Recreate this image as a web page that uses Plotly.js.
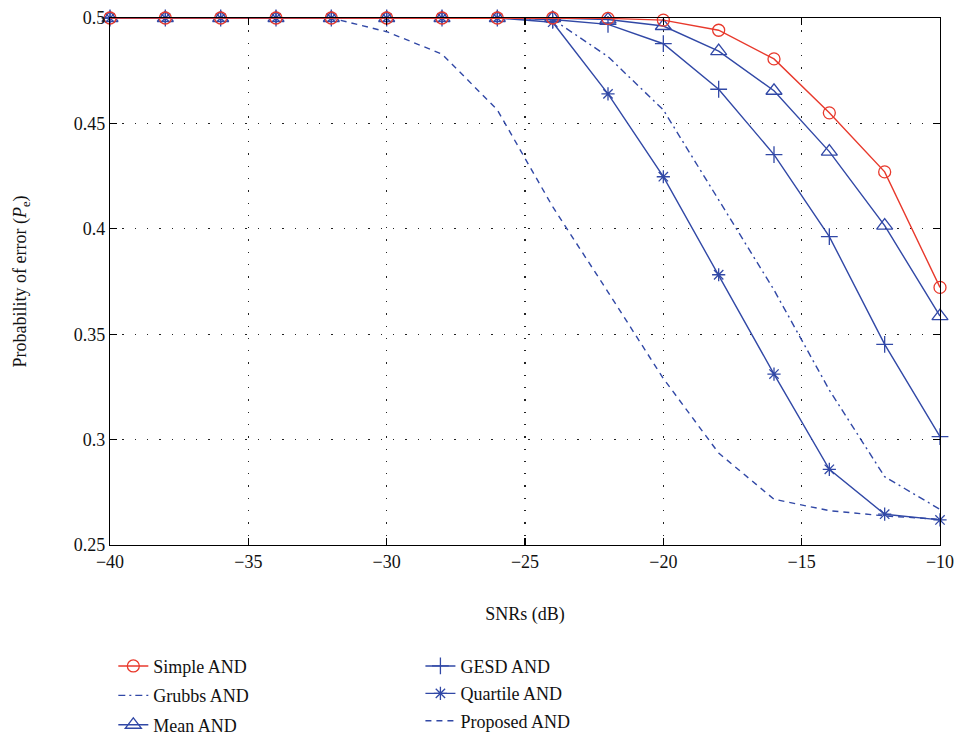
<!DOCTYPE html>
<html>
<head>
<meta charset="utf-8">
<script src="https://cdn.plot.ly/plotly-3.0.1.min.js"></script>
<style>html,body{margin:0;padding:0;background:#fff;}#chart{width:956px;height:738px;}</style>
</head>
<body>
<div id="chart"></div>
<script>
const snr = [-40,-38,-36,-34,-32,-30,-28,-26,-24,-22,-20,-18,-16,-14,-12,-10];
const simpleAND   = [0.5,0.5,0.5,0.5,0.5,0.5,0.5,0.5,0.5,0.4998,0.499,0.4942,0.4806,0.455,0.427,0.3722];
const grubbsAND   = [0.5,0.5,0.5,0.5,0.5,0.5,0.5,0.5,0.4994,0.4817,0.4564,0.414,0.371,0.3235,0.2824,0.2669];
const meanAND     = [0.5,0.5,0.5,0.5,0.5,0.5,0.5,0.5,0.5,0.4993,0.4962,0.4843,0.4655,0.4366,0.4015,0.3586];
const gesdAND     = [0.5,0.5,0.5,0.5,0.5,0.5,0.5,0.5,0.4993,0.497,0.4878,0.4662,0.4352,0.3963,0.3452,0.3014];
const quartileAND = [0.5,0.5,0.5,0.5,0.5,0.5,0.5,0.5,0.498,0.464,0.4247,0.3782,0.3311,0.2859,0.2646,0.2619];
const proposedAND = [0.5,0.5,0.5,0.5,0.5,0.4935,0.4829,0.4564,0.4105,0.370,0.329,0.2936,0.2717,0.2663,0.2638,0.2622];

const RED = '#e8392c';
const BLUE = '#3148a6';
const FONT = 'Liberation Serif';

function tr(name, y, color, dash, symbol, size, legend, rank) {
  const t = {
    type: 'scatter', x: snr, y: y, name: name,
    mode: symbol ? 'lines+markers' : 'lines',
    line: {color: color, width: 1.4, dash: dash},
    cliponaxis: false,
    legend: legend, legendrank: rank, legendgroup: name
  };
  if (symbol) t.marker = {symbol: symbol, size: size, color: color, line: {color: color, width: 1.3}};
  return t;
}

const data = [
  tr('Proposed AND', proposedAND, BLUE, '6px,5px', null, 0, 'legend2', 6),
  tr('Grubbs AND', grubbsAND, BLUE, '7px,4px,2px,4px', null, 0, 'legend', 2),
  tr('Quartile AND', quartileAND, BLUE, 'solid', 'asterisk-open', 11, 'legend2', 5),
  tr('GESD AND', gesdAND, BLUE, 'solid', 'cross-thin-open', 12, 'legend2', 4),
  tr('Mean AND', meanAND, BLUE, 'solid', 'triangle-up-open', 14, 'legend', 3),
  tr('Simple AND', simpleAND, RED, 'solid', 'circle-open', 12, 'legend', 1)
];

const axisCommon = {
  showline: true, linecolor: '#000', linewidth: 1.2, mirror: 'ticks',
  ticks: 'inside', ticklen: 7, tickcolor: '#000', tickwidth: 1.2,
  showgrid: true, gridcolor: '#222', gridwidth: 1.3, griddash: '1.3px,11px',
  zeroline: false, automargin: false,
  tickfont: {family: FONT, size: 18, color: '#111'}
};

const layout = {
  width: 956, height: 738,
  margin: {l: 110, r: 16, t: 18, b: 193, autoexpand: false},
  paper_bgcolor: '#fff', plot_bgcolor: '#fff',
  font: {family: FONT, size: 18, color: '#111'},
  xaxis: Object.assign({}, axisCommon, {
    range: [-40, -10], tick0: -40, dtick: 5,
    title: {text: 'SNRs (dB)', font: {family: FONT, size: 18}, standoff: 36}
  }),
  yaxis: Object.assign({}, axisCommon, {
    range: [0.25, 0.5], tick0: 0.25, dtick: 0.05,
    title: {text: 'Probability of error (<i>P</i><sub>e</sub>)', font: {family: FONT, size: 18}, standoff: 42}
  }),
  legend: {
    x: 0.004, y: -0.195, xanchor: 'left', yanchor: 'top',
    orientation: 'v', traceorder: 'grouped', tracegroupgap: 3,
    font: {family: FONT, size: 18}, bgcolor: 'rgba(0,0,0,0)'
  },
  legend2: {
    x: 0.374, y: -0.195, xanchor: 'left', yanchor: 'top',
    orientation: 'v', traceorder: 'grouped', tracegroupgap: 1,
    font: {family: FONT, size: 18}, bgcolor: 'rgba(0,0,0,0)'
  },
  showlegend: true
};

Plotly.newPlot('chart', data, layout, {displayModeBar: false, staticPlot: true});
</script>
</body>
</html>
